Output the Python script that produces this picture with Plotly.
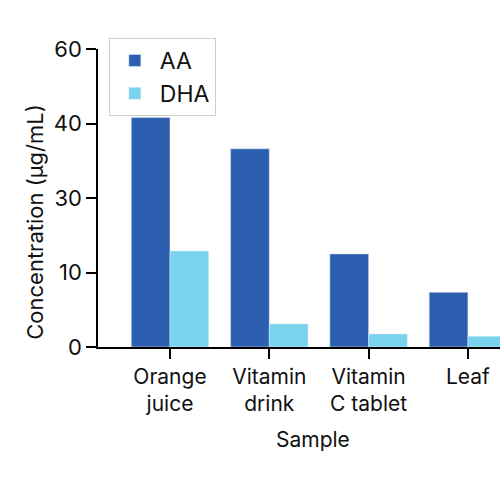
import plotly.graph_objects as go

# categories and series (values in axis units, as drawn)
samples = ["Orange<br>juice", "Vitamin<br>drink", "Vitamin<br>C tablet", "Leaf"]
aa_values = [30.8, 26.6, 12.5, 7.35]
dha_values = [12.9, 3.1, 1.75, 1.45]

# y tick positions and the labels printed on them
y_tickvals = [0, 10, 20, 30, 40]
y_ticktext = ["0", "10", "30", "40", "60"]

font_family = "Inter, Roboto, Arial, sans-serif"

fig = go.Figure()
fig.add_trace(go.Bar(x=samples, y=aa_values, name="AA", marker_color="#2C5FB0"))
fig.add_trace(go.Bar(x=samples, y=dha_values, name="DHA", marker_color="#7AD3EE"))

fig.update_layout(
    width=500,
    height=500,
    barmode="group",
    bargap=0.22,
    bargroupgap=0,
    plot_bgcolor="white",
    paper_bgcolor="white",
    margin=dict(l=98, r=0, t=49, b=153, autoexpand=False),
    font=dict(family=font_family, size=21, color="#111111"),
    legend=dict(
        x=0.027, y=1.037, xanchor="left", yanchor="top",
        bordercolor="#d0d0d0", borderwidth=1, bgcolor="white",
        font=dict(size=23), itemwidth=40,
    ),
    showlegend=True,
)

# right edge of the plot is cut off like in the reference
fig.update_xaxes(
    range=[-0.725, 3.323],
    automargin=False,
    showline=True, linecolor="black", linewidth=1.5,
    ticks="outside", ticklen=10, tickcolor="black", tickwidth=1.5,
    tickfont=dict(size=21),
    showgrid=False,
)
fig.update_yaxes(
    range=[0, 40],
    automargin=False,
    tickvals=y_tickvals, ticktext=y_ticktext,
    showline=True, linecolor="black", linewidth=1.5,
    ticks="outside", ticklen=10, tickcolor="black", tickwidth=1.5,
    tickfont=dict(size=22),
    showgrid=False, zeroline=False,
)

# axis titles placed like the reference
fig.add_annotation(
    text="Concentration (µg/mL)", textangle=-90,
    xref="paper", yref="paper", x=-0.157, y=0.42,
    xanchor="center", yanchor="middle", showarrow=False,
    font=dict(size=22),
)
fig.add_annotation(
    text="Sample",
    xref="paper", yref="paper", x=0.535, y=-0.309,
    xanchor="center", yanchor="middle", showarrow=False,
    font=dict(size=21),
)

# drop the default 8px body margin so the figure fills the window
fig.write_html(
    "out.html",
    config={"displayModeBar": False},
    post_script="document.body.style.margin = '0';",
)
